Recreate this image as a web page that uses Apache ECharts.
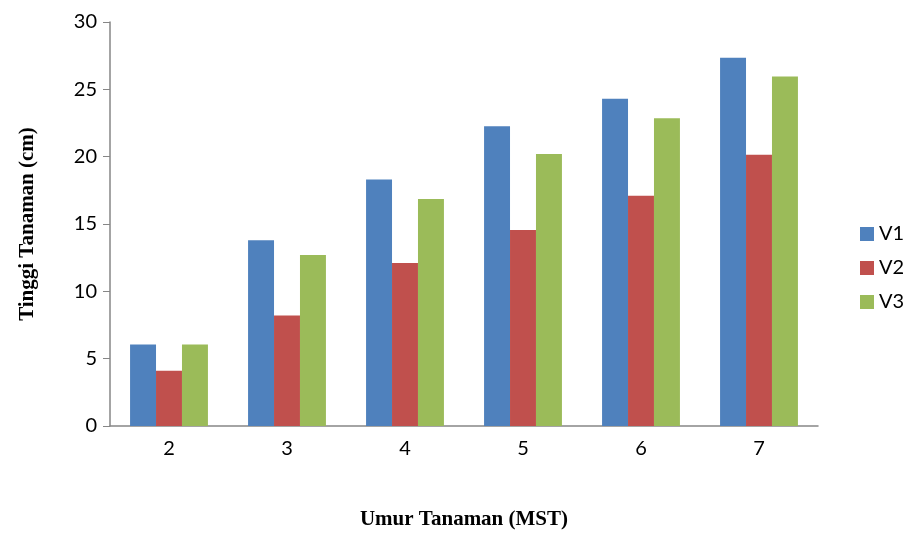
<!DOCTYPE html>
<html lang="en">
<head>
    <meta charset="UTF-8">
    <title>Tinggi Tanaman</title>
    <script src="https://cdn.jsdelivr.net/npm/echarts@6/dist/echarts.min.js"></script>
    <style>
        * { margin: 0; padding: 0; }
        #chart { width: 911px; height: 535px; background: #fff; }
    </style>
</head>
<body>
    <div id="chart"></div>
<script>
    // umur tanaman (MST)
    var categories = ['2', '3', '4', '5', '6', '7'];
    var seriesNames = ['V1', 'V2', 'V3'];
    var v1 = [6.05, 13.8, 18.3, 22.25, 24.3, 27.35];
    var v2 = [4.1, 8.2, 12.1, 14.55, 17.1, 20.15];
    var v3 = [6.05, 12.7, 16.85, 20.2, 22.85, 25.95];
    var colors = ['#4F81BD', '#C0504D', '#9BBB59'];

    var chart = echarts.init(document.getElementById('chart'));
    var labelFont = 'Lato, "Open Sans", sans-serif';
    var titleFont = '"Liberation Serif", "DejaVu Serif", serif';

    var series = [v1, v2, v3].map(function (d, i) {
        return {
            name: seriesNames[i],
            type: 'bar',
            data: d,
            barGap: '0%',
            barCategoryGap: '34%',
            itemStyle: { color: colors[i] }
        };
    });

    chart.setOption({
        animation: false,
        grid: { left: 110, right: 93, top: 22, bottom: 108, containLabel: false },
        legend: {
            orient: 'vertical',
            left: 855,
            top: 219,
            itemWidth: 14,
            itemHeight: 14,
            itemGap: 14,
            icon: 'rect',
            textStyle: { fontFamily: labelFont, fontSize: 20, color: '#000' },
            data: seriesNames
        },
        xAxis: {
            type: 'category',
            data: categories,
            name: 'Umur Tanaman (MST)',
            nameLocation: 'middle',
            nameGap: 83,
            nameTextStyle: { fontFamily: titleFont, fontWeight: 'bold', fontSize: 21, color: '#000' },
            axisLine: { lineStyle: { color: '#868686', width: 1.5 } },
            axisTick: { show: false },
            axisLabel: { fontFamily: labelFont, fontSize: 20, color: '#000', margin: 13 }
        },
        yAxis: {
            type: 'value',
            min: 0,
            max: 30,
            interval: 5,
            name: 'Tinggi Tanaman (cm)',
            nameLocation: 'middle',
            nameGap: 72,
            nameTextStyle: { fontFamily: titleFont, fontWeight: 'bold', fontSize: 21, color: '#000' },
            axisLine: { show: true, lineStyle: { color: '#868686', width: 1.5 } },
            axisTick: { show: true, length: 7, lineStyle: { color: '#868686' } },
            splitLine: { show: false },
            axisLabel: { fontFamily: labelFont, fontSize: 20, color: '#000', margin: 13 }
        },
        series: series
    });
</script>
</body>
</html>
